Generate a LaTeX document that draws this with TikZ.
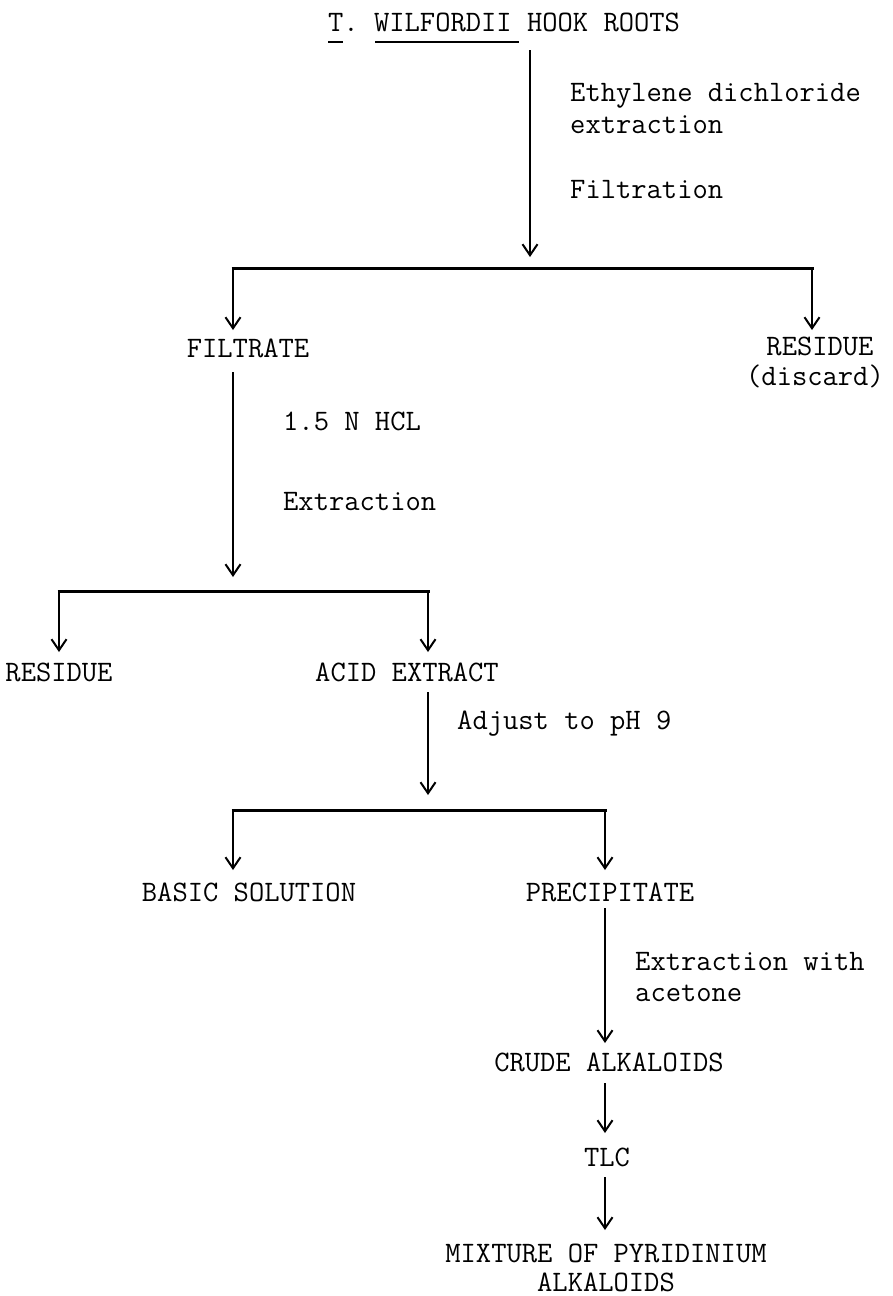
\documentclass[tikz,border=0pt]{standalone}
\usepackage{fontspec}
\usetikzlibrary{arrows.meta}
\begin{document}
\begin{tikzpicture}[x=1pt,y=-1pt,
  txt/.style={font=\ttfamily\fontsize{29.7}{33}\selectfont, inner sep=0pt, anchor=base},
  lbl/.style={txt, anchor=base west},
  flow/.style={line width=2pt, -{Straight Barb[length=11pt,width=15pt,line width=2pt]}},
  bar/.style={line width=3pt, line cap=butt},
  uline/.style={line width=2.5pt}]
\useasboundingbox[fill=white] (0,0) rectangle (893,1296);

% title
\node[lbl] (title) at (328,31) {T. WILFORDII HOOK ROOTS};
\coordinate (u1a) at (328,42); \coordinate (u1b) at (343,42);
\coordinate (u2a) at (375,42); \coordinate (u2b) at (519,42);
\draw[uline] (u1a) -- (u1b);
\draw[uline] (u2a) -- (u2b);

% step 1
\coordinate (s1) at (530,50);
\coordinate (s1e) at (530,257);
\draw[flow] (s1) -- (s1e);
\node[lbl] (l1a) at (570,101) {Ethylene dichloride};
\node[lbl] (l1b) at (570,133) {extraction};
\node[lbl] (l1c) at (570,198) {Filtration};

\coordinate (b1l) at (233,268);
\coordinate (b1r) at (812,268);
\draw[bar] ([xshift=-1.5pt]b1l) -- ([xshift=1.5pt]b1r);
\coordinate (b1lt) at (233,330);
\coordinate (b1rt) at (812,330);
\draw[flow] (b1l) -- (b1lt);
\draw[flow] (b1r) -- (b1rt);

\node[txt] (filtrate) at (248,357) {FILTRATE};
\node[txt] (res1) at (820,355) {RESIDUE};
\node[txt] (disc) at (815,385) {(discard)};

% step 2
\coordinate (s2) at (233,372);
\coordinate (s2e) at (233,577);
\draw[flow] (s2) -- (s2e);
\node[lbl] (l2a) at (283,430) {1.5 N HCL};
\node[lbl] (l2b) at (283,510) {Extraction};

\coordinate (b2l) at (59,591);
\coordinate (b2r) at (428,591);
\draw[bar] ([xshift=-1.5pt]b2l) -- ([xshift=1.5pt]b2r);
\coordinate (b2lt) at (59,652);
\coordinate (b2rt) at (428,652);
\draw[flow] (b2l) -- (b2lt);
\draw[flow] (b2r) -- (b2rt);

\node[txt] (res2) at (59,681) {RESIDUE};
\node[txt] (acid) at (407,681) {ACID EXTRACT};

% step 3
\coordinate (s3) at (428,692);
\coordinate (s3e) at (428,795);
\draw[flow] (s3) -- (s3e);
\node[lbl] (l3) at (457,729) {Adjust to pH 9};

\coordinate (b3l) at (233,810);
\coordinate (b3r) at (605,810);
\draw[bar] ([xshift=-1.5pt]b3l) -- ([xshift=1.5pt]b3r);
\coordinate (b3lt) at (233,870);
\coordinate (b3rt) at (605,870);
\draw[flow] (b3l) -- (b3lt);
\draw[flow] (b3r) -- (b3rt);

\node[txt] (basic) at (249,901) {BASIC SOLUTION};
\node[txt] (prec) at (610,901) {PRECIPITATE};

% step 4
\coordinate (s4) at (605,908);
\coordinate (s4e) at (605,1043);
\draw[flow] (s4) -- (s4e);
\node[lbl] (l4a) at (635,970) {Extraction with};
\node[lbl] (l4b) at (635,1001) {acetone};

\node[txt] (crude) at (609,1071) {CRUDE ALKALOIDS};
\coordinate (s5) at (605,1083);
\coordinate (s5e) at (605,1133);
\draw[flow] (s5) -- (s5e);

\node[txt] (tlc) at (607,1166) {TLC};
\coordinate (s6) at (605,1177);
\coordinate (s6e) at (605,1230);
\draw[flow] (s6) -- (s6e);

\node[txt] (mix1) at (606,1262) {MIXTURE OF PYRIDINIUM};
\node[txt] (mix2) at (606,1291) {ALKALOIDS};
\end{tikzpicture}
\end{document}
